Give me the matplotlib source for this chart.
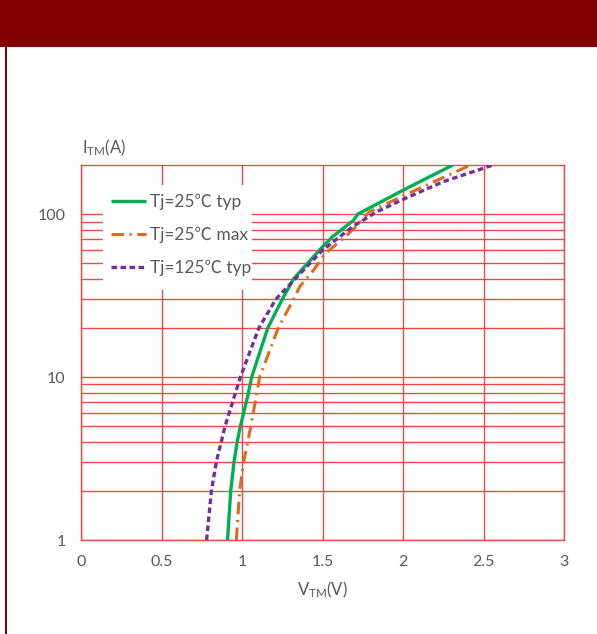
import matplotlib
matplotlib.use("Agg")
import matplotlib.pyplot as plt
from matplotlib.patches import Rectangle
from matplotlib.ticker import FixedLocator, NullFormatter

# ---- data ----
green_I = [1, 2, 3, 4, 5, 6, 8, 10, 20, 30, 40, 63, 73, 91, 100, 140, 200]
green_V = [0.91, 0.93, 0.95, 0.97, 0.99, 1.01, 1.04, 1.06, 1.16, 1.25, 1.32, 1.50, 1.565, 1.69, 1.72, 2.0, 2.31]

orange_I = [1, 2, 3, 5, 10, 20, 30, 36, 46, 57, 71, 84, 103, 132, 186, 200]
orange_V = [0.965, 0.985, 1.01, 1.055, 1.11, 1.225, 1.32, 1.36, 1.45, 1.515, 1.63, 1.71, 1.79, 2.02, 2.35, 2.42]

purple_I = [1, 2, 3, 5, 10, 20, 30, 43, 60, 84, 103, 123, 158, 200]
purple_V = [0.78, 0.81, 0.84, 0.895, 0.99, 1.105, 1.21, 1.36, 1.50, 1.69, 1.835, 2.0, 2.25, 2.56]

labels = ["Tj=25\u2103 typ", "Tj=25\u2103 max", "Tj=125\u2103 typ"]
x_ticks = [0, 0.5, 1, 1.5, 2, 2.5, 3]
x_tick_labels = ["0", "0.5", "1", "1.5", "2", "2.5", "3"]
y_ticks = [1, 10, 100]
y_tick_labels = ["1", "10", "100"]
y_minor = [2, 3, 4, 5, 6, 7, 8, 9, 20, 30, 40, 50, 60, 70, 80, 90]

# ---- style ----
plt.rcParams['font.family'] = ['Lato', 'Noto Sans CJK SC', 'DejaVu Sans']
plt.rcParams['mathtext.fontset'] = 'custom'
plt.rcParams['mathtext.rm'] = 'Lato'
plt.rcParams['mathtext.it'] = 'Lato'
plt.rcParams['lines.scale_dashes'] = False

W, H = 597, 634
fig = plt.figure(figsize=(W / 100, H / 100), dpi=100)
fig.patch.set_facecolor('white')

# header bar and left border
fig.patches.append(Rectangle((0, 1 - 47 / H), 1, 47 / H, transform=fig.transFigure,
                             facecolor='#800000', edgecolor='none'))
fig.patches.append(Rectangle((4.5 / W, 0), 2.5 / W, 1 - 47 / H, transform=fig.transFigure,
                             facecolor='#800000', edgecolor='none'))

AX_L, AX_R, AX_T, AX_B = 81, 564, 165, 540
ax = fig.add_axes([AX_L / W, (H - AX_B) / H, (AX_R - AX_L) / W, (AX_B - AX_T) / H])
ax.set_yscale('log')
ax.set_xlim(0, 3)
ax.set_ylim(1, 200)

grid_c = '#f04848'
for s in ax.spines.values():
    s.set_color(grid_c)
    s.set_linewidth(1.0)

ax.set_xticks(x_ticks)
ax.set_xticklabels(x_tick_labels)
ax.yaxis.set_major_locator(FixedLocator(y_ticks))
ax.set_yticklabels(y_tick_labels)
ax.yaxis.set_minor_locator(FixedLocator(y_minor))
ax.yaxis.set_minor_formatter(NullFormatter())
ax.tick_params(axis='both', which='both', length=0, labelsize=11.5, labelcolor='#595959')
ax.tick_params(axis='x', pad=11)
ax.tick_params(axis='y', pad=11)
ax.grid(True, which='major', axis='x', color=grid_c, lw=1.0)
ax.grid(True, which='both', axis='y', color=grid_c, lw=1.0)
ax.set_axisbelow(True)

lg, = ax.plot(green_V, green_I, color='#00b050', lw=2.4, solid_capstyle='butt', zorder=3)
lo, = ax.plot(orange_V, orange_I, color='#e06a1a', lw=2.2, linestyle=(0, (9, 4, 1.5, 4)), zorder=3)
lp, = ax.plot(purple_V, purple_I, color='#7030a0', lw=2.4, linestyle=(0, (4, 2.5)), zorder=3)

# white legend backdrop covering the grid
aw, ah = AX_R - AX_L, AX_B - AX_T
ax.add_patch(Rectangle(((103 - AX_L) / aw, (AX_B - 290) / ah), (252 - 103) / aw, (290 - 185) / ah,
                       transform=ax.transAxes, facecolor='white', edgecolor='none', zorder=2))

leg = ax.legend([lg, lo, lp], labels, loc='upper left',
                bbox_to_anchor=((99 - AX_L) / aw, (AX_B - 182) / ah),
                borderaxespad=0, frameon=False, fontsize=12.5,
                handlelength=2.0, handletextpad=0.25, labelspacing=0.95,
                borderpad=0.68, labelcolor='#595959')
leg.set_zorder(5)

fig.text(322 / W, 1 - 590 / H, r"V$_{\mathrm{TM}}$(V)", ha='center', va='center',
         fontsize=12, color='#595959')
fig.text(82 / W, 1 - 148 / H, r"I$_{\mathrm{TM}}$(A)", ha='left', va='center',
         fontsize=12, color='#595959')

fig.savefig('out.png', dpi=100, facecolor='white')
